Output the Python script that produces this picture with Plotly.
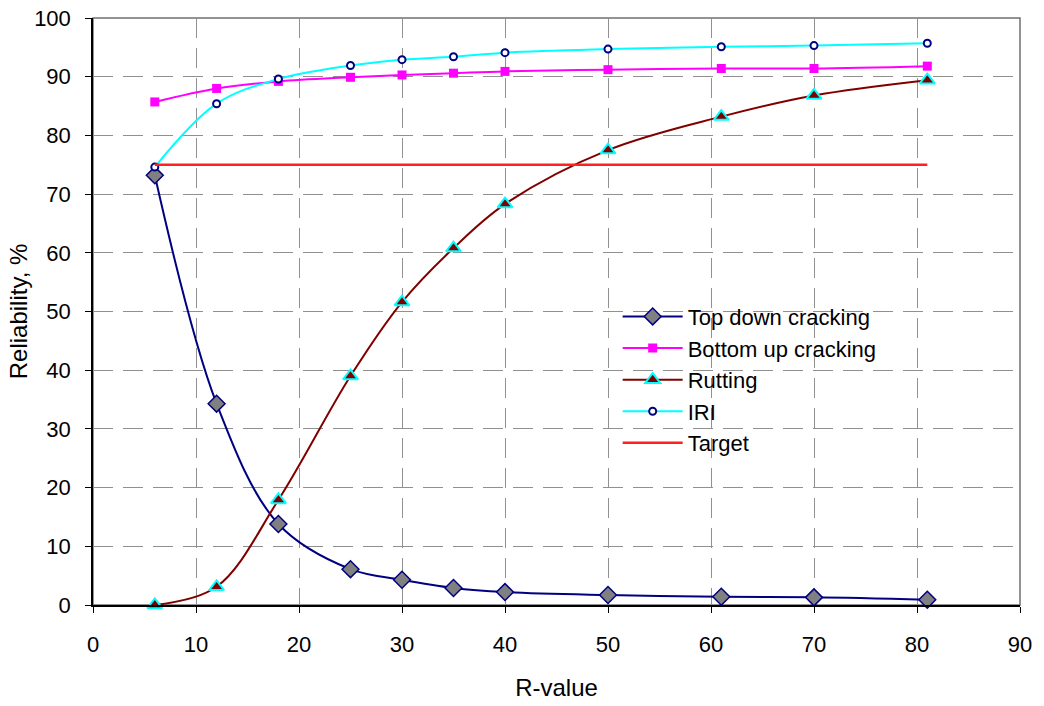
import plotly.graph_objects as go

r_values = [6, 12, 18, 25, 30, 35, 40, 50, 61, 70, 81]
top_down = [73.2, 34.3, 13.8, 6.1, 4.3, 2.9, 2.2, 1.7, 1.4, 1.3, 0.9]
bottom_up = [85.7, 88.0, 89.2, 89.9, 90.3, 90.6, 90.9, 91.2, 91.4, 91.4, 91.8]
rutting = [0.0, 3.1, 17.9, 39.0, 51.6, 60.8, 68.3, 77.5, 83.2, 86.8, 89.4]
iri = [74.6, 85.4, 89.6, 91.9, 92.9, 93.4, 94.1, 94.7, 95.1, 95.3, 95.7]
target_x = [6, 81]
target_y = [75, 75]

FONT = "Liberation Sans, Arial, sans-serif"
fig = go.Figure()

fig.add_trace(go.Scatter(
    x=r_values, y=top_down, name="Top down cracking", mode="lines+markers",
    line=dict(color="#000080", width=2, shape="spline", smoothing=1),
    marker=dict(symbol="diamond", size=13, color="#808080",
                line=dict(color="#000080", width=1.5)),
    cliponaxis=False))
fig.add_trace(go.Scatter(
    x=r_values, y=bottom_up, name="Bottom up cracking", mode="lines+markers",
    line=dict(color="#FF00FF", width=2, shape="spline", smoothing=1),
    marker=dict(symbol="square", size=9, color="#FF00FF",
                line=dict(color="#FF00FF", width=0)),
    cliponaxis=False))
fig.add_trace(go.Scatter(
    x=r_values, y=rutting, name="Rutting", mode="lines+markers",
    line=dict(color="#800000", width=2, shape="spline", smoothing=1),
    marker=dict(symbol="triangle-up", size=13, color="#800000",
                line=dict(color="#00FFFF", width=2)),
    cliponaxis=False))
fig.add_trace(go.Scatter(
    x=r_values, y=iri, name="IRI", mode="lines+markers",
    line=dict(color="#00FFFF", width=2, shape="spline", smoothing=1),
    marker=dict(symbol="circle", size=7, color="white",
                line=dict(color="#000080", width=2)),
    cliponaxis=False))
fig.add_trace(go.Scatter(
    x=target_x, y=target_y, name="Target", mode="lines",
    line=dict(color="#FF2020", width=2.5),
    cliponaxis=False))

fig.add_shape(type="rect", xref="paper", yref="paper", x0=0, y0=0, x1=1, y1=1,
              line=dict(color="#707070", width=1.5), layer="below")

axis_common = dict(
    showline=True, linecolor="black", linewidth=1.5,
    ticks="outside", ticklen=6, tickcolor="black", tickwidth=1,
    showgrid=True, gridcolor="#909090", gridwidth=1, griddash="20px,10px",
    zeroline=False, automargin=False, ticklabeloverflow="allow",
    tickfont=dict(family=FONT, size=22, color="black"),
)

fig.update_xaxes(range=[0, 90], dtick=10, tick0=0, ticklabelstandoff=13,
                 title=dict(text="R-value", font=dict(family=FONT, size=24, color="black"),
                            standoff=23),
                 **axis_common)
fig.update_yaxes(range=[0, 100], dtick=10, tick0=0, ticklabelstandoff=10,
                 title=dict(text="Reliability, %", font=dict(family=FONT, size=24, color="black"),
                            standoff=0),
                 **axis_common)

fig.update_layout(
    width=1044, height=706,
    margin=dict(l=93, r=24, t=18, b=101),
    paper_bgcolor="white", plot_bgcolor="white",
    font=dict(family=FONT, size=22, color="black"),
    showlegend=True,
    legend=dict(x=0.566, y=0.527, xanchor="left", yanchor="top",
                bgcolor="rgba(255,255,255,0)", borderwidth=0,
                font=dict(family=FONT, size=22, color="black"),
                tracegroupgap=0, itemwidth=60),
)

fig.write_html("out.html",
               config={"displayModeBar": False},
               post_script="document.body.style.margin='0';document.body.style.overflow='hidden';")
